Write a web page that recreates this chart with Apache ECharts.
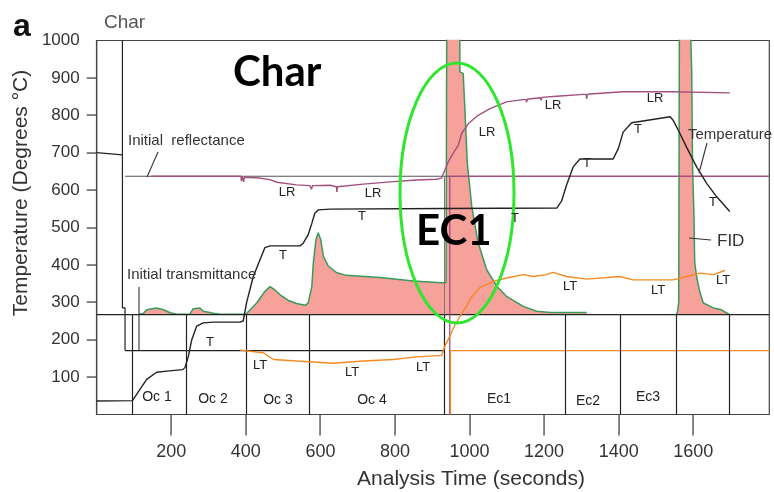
<!DOCTYPE html>
<html>
<head>
<meta charset="utf-8">
<script src="https://cdn.jsdelivr.net/npm/echarts@6/dist/echarts.min.js"></script>
<style>
  html, body { margin: 0; padding: 0; background: #fff; }
  #chart { width: 774px; height: 492px; }
</style>
</head>
<body>
<div id="chart"></div>
<script>
// tick values
const xTicks = [200, 400, 600, 800, 1000, 1200, 1400, 1600];
const yTicks = [100, 200, 300, 400, 500, 600, 700, 800, 900];
const yLabels = [100, 200, 300, 400, 500, 600, 700, 800, 900, 1000];

// temperature (T) [seconds, degrees C]
const temperature = [[0,36],[96,37],[98,41],[116,67],[134,94],[161,113],[188,116],[231,120],[237,126],[246,156],[255,200],[268,236],[286,245],[313,247],[384,247],[393,250],[402,299],[420,369],[438,414],[451,446],[465,451],[545,451],[554,458],[567,480],[577,511],[585,538],[594,547],[626,549],[931,551],[1234,552],[1247,571],[1260,613],[1278,662],[1296,683],[1385,683],[1399,711],[1412,755],[1435,780],[1538,796],[1546,787],[1564,752],[1582,715],[1609,662],[1636,618],[1663,582],[1698,543]];

// laser reflectance (LR)
const reflectance = [[147,637],[387,637],[388,624],[390,637],[393,636],[394,622],[396,634],[429,633],[465,628],[483,621],[536,614],[572,612],[576,602],[579,612],[626,613],[643,609],[644,595],[646,609],[715,616],[787,622],[858,627],[912,629],[925,632],[934,654],[943,676],[956,698],[970,720],[979,752],[997,778],[1023,800],[1055,818],[1099,836],[1144,842],[1152,842],[1153,835],[1155,843],[1171,845],[1190,847],[1192,840],[1194,848],[1234,851],[1305,856],[1313,856],[1314,844],[1316,856],[1323,857],[1412,863],[1546,863],[1698,860]];

// laser transmittance (LT)
const transmittance = [[384,172],[447,165],[474,147],[536,143],[572,141],[634,137],[715,143],[795,147],[858,154],[925,158],[934,183],[947,209],[960,238],[974,262],[992,290],[1006,315],[1028,340],[1064,356],[1099,365],[1144,374],[1171,369],[1207,374],[1224,380],[1260,369],[1314,362],[1403,369],[1439,360],[1546,360],[1582,369],[1618,378],[1654,374],[1685,385]];

// FID signal (off-scale peaks above 1000)
const fidMain = [[113,268],[125,270],[134,280],[161,285],[179,280],[197,272],[215,268],[250,269],[259,283],[277,285],[286,276],[313,271],[330,268],[400,268],[402,269],[429,298],[451,329],[465,342],[478,333],[492,320],[514,305],[536,297],[559,292],[567,298],[577,342],[581,405],[588,467],[594,486],[601,467],[608,423],[621,397],[644,379],[670,372],[760,366],[849,357],[925,352],[937,352],[939,1100],[974,1100],[974,916],[983,912],[988,806],[994,672],[1006,556],[1023,459],[1046,387],[1073,343],[1099,316],[1144,289],[1180,276],[1216,273],[1314,273]];
const fidEc3 = [[1555,268],[1558,276],[1561,300],[1563,1100],[1591,1100],[1596,912],[1598,672],[1602,529],[1603,459],[1604,406],[1609,369],[1618,326],[1627,298],[1654,285],[1676,280],[1689,272],[1696,268]];

// reference levels and phase boundaries
const fidBaseline = 267;
const initReflectance = 637;
const initTransmittance = 171;
const splitTime = 947;
const laserStart = [[0,700],[69,694],[69,1000],[69,285],[76,285],[76,171]];
const phaseBounds = [96, 241, 400, 569, 931, 1256, 1404, 1555, 1696];
const phaseNames = ['Oc 1', 'Oc 2', 'Oc 3', 'Oc 4', 'Ec1', 'Ec2', 'Ec3'];

const FONT = '"Liberation Sans", Arial, sans-serif';
const chart = echarts.init(document.getElementById('chart'));
const G = { left: 96.7, right: 4.7, top: 40.5, bottom: 77.5 };
const X_MAX = 1804, Y_MAX = 1000;
const plotW = 774 - G.left - G.right, plotH = 492 - G.top - G.bottom;

function line(data, color, width, extra) {
  return Object.assign({
    type: 'line', data: data, symbol: 'none', showSymbol: false,
    silent: true, animation: false, clip: true,
    lineStyle: { color: color, width: width }
  }, extra || {});
}

function txt(s, x, y, size, extra) {
  return {
    type: 'text', x: x, y: y, z: 50, silent: true,
    style: Object.assign({
      text: s, font: size + 'px ' + FONT, fill: '#222',
      textAlign: 'center', textVerticalAlign: 'middle'
    }, extra || {})
  };
}
function seg(x1, y1, x2, y2, color, w) {
  return { type: 'line', z: 50, silent: true,
    shape: { x1: x1, y1: y1, x2: x2, y2: y2 },
    style: { stroke: color || '#333', lineWidth: w || 1.1 } };
}
function bar(x, y, w, h) {
  return { type: 'rect', z: 100, silent: true,
    shape: { x: x, y: y, width: w, height: h },
    style: { fill: '#444' } };
}

const lrPos = [[287,192],[373,193],[487,132],[553,105],[655,98]];
const tPos = [[210,342],[283,255],[362,216],[515,218],[587,163],[638,129],[713,202]];
const ltPos = [[260,365],[352,372],[423,367],[570,286],[658,290],[723,280]];
const phasePos = [[157,397],[213,399],[278,400],[372,400],[499,399],[588,401],[648,397]];

const graphics = [];
lrPos.forEach(p => graphics.push(txt('LR', p[0], p[1], 13)));
tPos.forEach(p => graphics.push(txt('T', p[0], p[1], 13)));
ltPos.forEach(p => graphics.push(txt('LT', p[0], p[1], 13)));
phaseNames.forEach((n, i) => graphics.push(txt(n, phasePos[i][0], phasePos[i][1], 14)));
graphics.push(
  txt('a', 13, 27, 32, { font: 'bold 32px ' + FONT, fill: '#111', textAlign: 'left' }),
  txt('Char', 104, 23, 19, { fill: '#555', textAlign: 'left' }),
  txt('Char', 233, 72, 42, { font: 'bold 42px Lato, "Open Sans", sans-serif', fill: '#000', textAlign: 'left' }),
  txt('EC1', 416, 231, 42, { font: 'bold 42px Lato, "Open Sans", sans-serif', fill: '#000', textAlign: 'left' }),
  txt('Initial  reflectance', 128, 141, 15, { textAlign: 'left', fill: '#333' }),
  txt('Initial transmittance', 127, 275, 15, { textAlign: 'left', fill: '#333' }),
  txt('Temperature', 688, 135, 15, { textAlign: 'left', fill: '#333' }),
  txt('FID', 717, 241, 17, { textAlign: 'left', fill: '#333' }),
  seg(158, 152, 147, 177),
  seg(139, 287, 139, 351),
  seg(707, 143, 699, 173),
  seg(689, 238, 711, 240),
  { type: 'ellipse', z: 45, silent: true,
    shape: { cx: 457, cy: 193, rx: 57, ry: 130 },
    style: { fill: 'transparent', stroke: '#2EE62E', lineWidth: 3 } },
  txt('Analysis Time (seconds)', 471, 479, 21, { fill: '#333' }),
  { type: 'text', x: 21, y: 193, rotation: Math.PI / 2, z: 50, silent: true,
    style: { text: 'Temperature (Degrees °C)', font: '21px ' + FONT, fill: '#333',
      textAlign: 'center', textVerticalAlign: 'middle' } }
);

// tick marks as thin filled bars, on the same linear mapping as the fixed axis ranges
const axisBottom = G.top + plotH;
xTicks.forEach(v => {
  const px = G.left + v * plotW / X_MAX;
  graphics.push(bar(Math.round(px) - 0.6, axisBottom, 1.3, 21));
});
yTicks.forEach(v => {
  const py = G.top + (Y_MAX - v) * plotH / Y_MAX;
  graphics.push(bar(G.left - 10, Math.round(py) - 0.6, 10, 1.3));
});

const plain = v => String(v);
const axisStyle = { color: '#444', width: 1.2 };

const option = {
  animation: false,
  grid: { left: G.left, right: G.right, top: G.top, bottom: G.bottom, show: true,
    borderColor: '#444', borderWidth: 1.2, backgroundColor: 'transparent' },
  xAxis: {
    type: 'value', min: 0, max: X_MAX,
    axisLine: { show: true, lineStyle: axisStyle }, splitLine: { show: false },
    axisTick: { show: false },
    axisLabel: { customValues: xTicks, margin: 29, fontSize: 18, color: '#333', fontFamily: FONT, formatter: plain }
  },
  yAxis: {
    type: 'value', min: 0, max: Y_MAX,
    axisLine: { show: true, lineStyle: axisStyle }, splitLine: { show: false },
    axisTick: { show: false },
    axisLabel: { customValues: yLabels, margin: 17, fontSize: 17, color: '#333', fontFamily: FONT, formatter: plain }
  },
  series: [
    line(fidMain, '#3A9A5B', 1.5, { areaStyle: { color: '#F6A19A', opacity: 1, origin: fidBaseline }, z: 2 }),
    line(fidEc3, '#3A9A5B', 1.5, { areaStyle: { color: '#F6A19A', opacity: 1, origin: fidBaseline }, z: 2 }),
    line([[0, fidBaseline], [X_MAX, fidBaseline]], '#222', 1.2, {
      z: 3,
      markLine: {
        silent: true, symbol: 'none', animation: false, label: { show: false },
        lineStyle: { color: '#222', width: 1.2, type: 'solid' },
        data: phaseBounds.map(t => [{ coord: [t, 0] }, { coord: [t, fidBaseline] }])
          .concat([[{ coord: [931, fidBaseline], lineStyle: { color: '#777', width: 1 } }, { coord: [931, initReflectance] }]])
      }
    }),
    line(laserStart, '#222', 1.2, { z: 3 }),
    line([[76, initReflectance], [splitTime, initReflectance]], '#555', 1.2, { z: 3 }),
    line([[76, initTransmittance], [931, initTransmittance]], '#222', 1.2, { z: 3 }),
    line([[splitTime, 0], [splitTime, initReflectance], [X_MAX, initReflectance]], '#A2507D', 1.3, { z: 4 }),
    line([[splitTime + 2, 0], [splitTime + 2, initTransmittance], [X_MAX, initTransmittance]], '#F68A22', 1.3, { z: 4 }),
    line(reflectance, '#A2507D', 1.4, { z: 5 }),
    line(transmittance, '#F68A22', 1.4, { z: 5 }),
    line(temperature, '#222', 1.4, { z: 6 })
  ],
  graphic: graphics
};
chart.setOption(option);
</script>
</body>
</html>
